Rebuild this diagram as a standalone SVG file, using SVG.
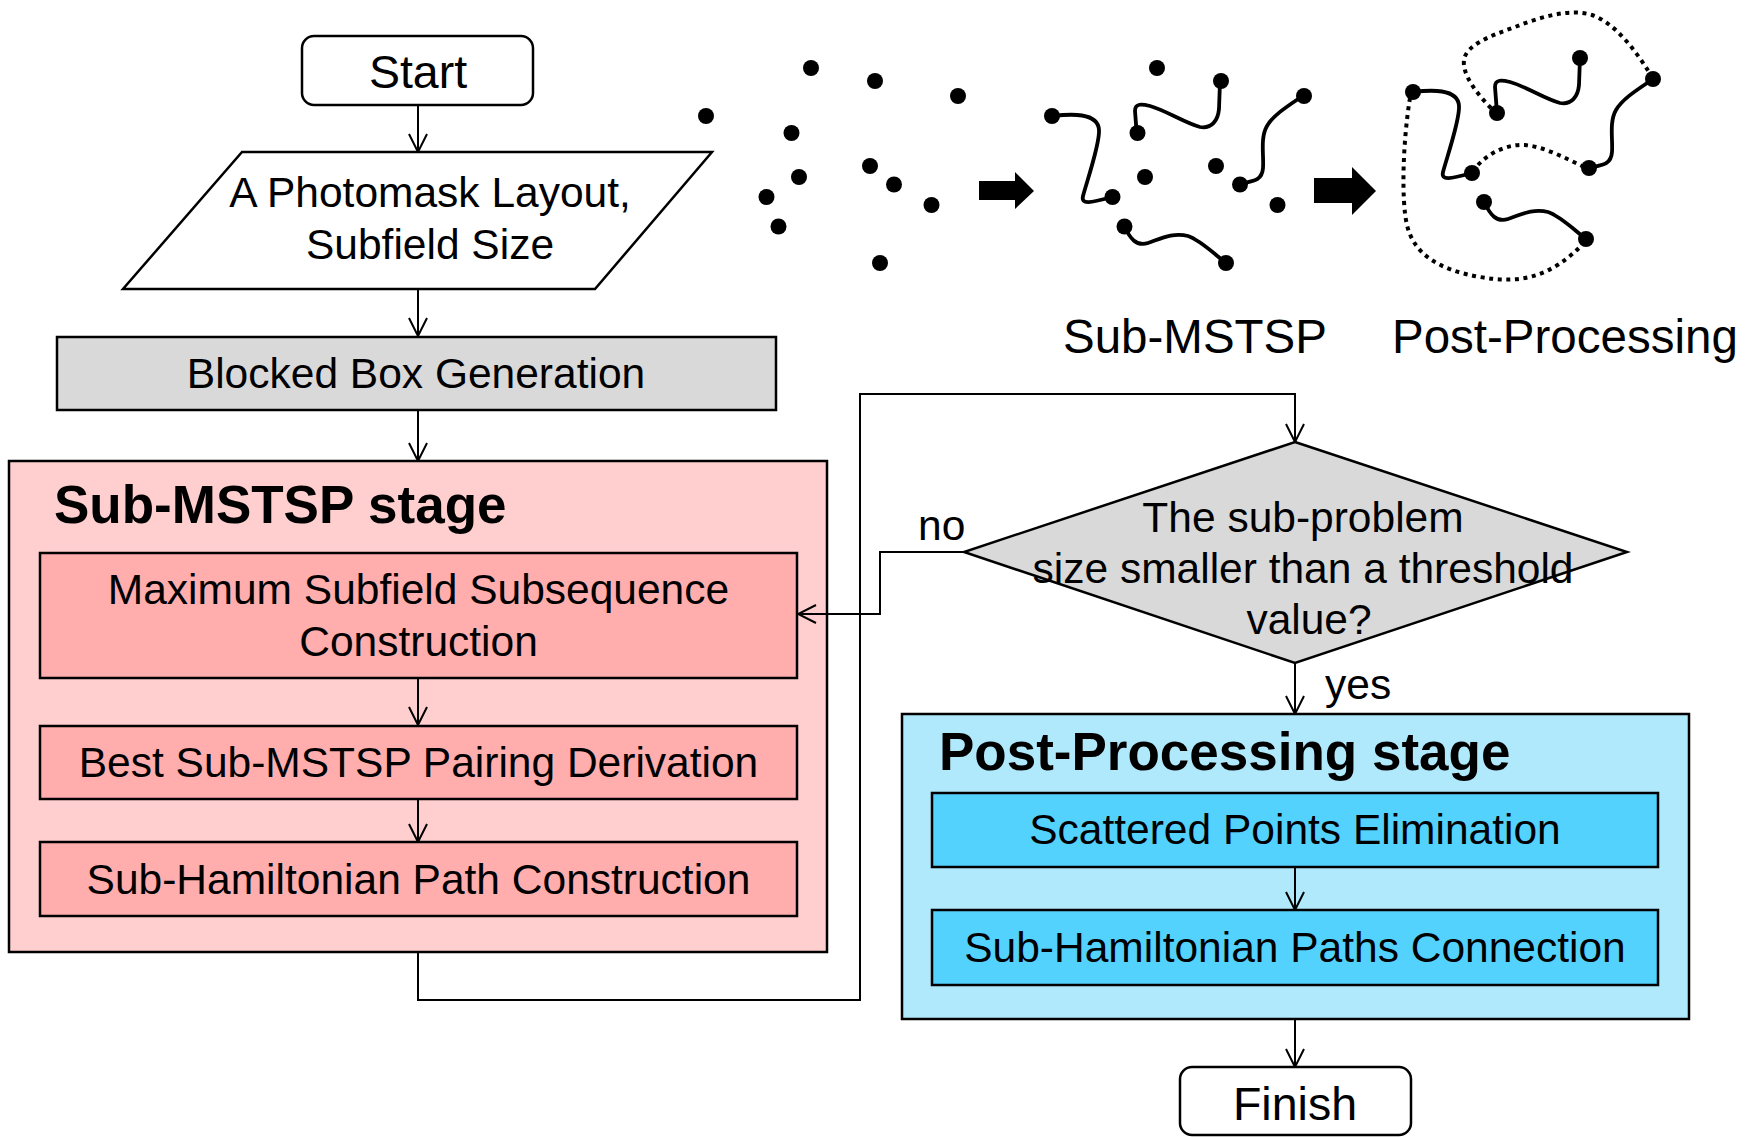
<svg xmlns="http://www.w3.org/2000/svg" width="1756" height="1137" viewBox="0 0 1756 1137">
  <defs>
    <marker id="open-arrow" viewBox="0 0 20 20" refX="19" refY="10" markerWidth="20" markerHeight="20" markerUnits="userSpaceOnUse" orient="auto">
      <path d="M1,1 L19,10 L1,19" fill="none" stroke="#000" stroke-width="2"/>
    </marker>
    <circle id="pt" r="8" fill="#000"/>
  </defs>
  <style>
    text { font-family: "Liberation Sans", Arial, sans-serif; fill: #000; }
    .body { font-size: 42.5px; text-anchor: middle; }
    .term { font-size: 46.5px; text-anchor: middle; }
    .cap { font-size: 47.5px; }
    .head { font-size: 53px; font-weight: bold; }
    .lbl { font-size: 42.5px; }
    .box { stroke: #000; stroke-width: 2.5; }
    .gray { fill: #d9d9d9; }
    .pink-out { fill: #ffcfcf; }
    .pink-in { fill: #ffadad; }
    .blue-out { fill: #b0e9fc; }
    .blue-in { fill: #54d2fe; }
    .edge { fill: none; stroke: #000; stroke-width: 2; }
    .wire { fill: none; stroke: #000; stroke-width: 3.8; stroke-linecap: round; }
    .dots { fill: none; stroke: #000; stroke-width: 4; stroke-dasharray: 4 4.6; }
  </style>

  <rect width="1756" height="1137" fill="#fff"/>

  <g id="start">
    <rect class="box" x="302" y="36" width="231" height="69" rx="12" fill="#fff"/>
    <text class="term" x="418" y="88">Start</text>
  </g>

  <g id="input">
    <polygon class="box" points="242,152 712,152 595,289 123,289" fill="#fff"/>
    <text class="body" x="430" y="207">A Photomask Layout,</text>
    <text class="body" x="430" y="259">Subfield Size</text>
  </g>

  <g id="blocked-box">
    <rect class="box gray" x="57" y="337" width="719" height="73"/>
    <text class="body" x="416" y="388">Blocked Box Generation</text>
  </g>

  <g id="sub-mstsp-stage">
    <rect class="box pink-out" x="9" y="461" width="818" height="491"/>
    <text class="head" x="54" y="523">Sub-MSTSP stage</text>
  </g>

  <g id="max-subsequence">
    <rect class="box pink-in" x="40" y="553" width="757" height="125"/>
    <text class="body" x="418.5" y="604">Maximum Subfield Subsequence</text>
    <text class="body" x="418.5" y="656">Construction</text>
  </g>

  <g id="pairing">
    <rect class="box pink-in" x="40" y="726" width="757" height="73"/>
    <text class="body" x="418.5" y="777">Best Sub-MSTSP Pairing Derivation</text>
  </g>

  <g id="sub-path">
    <rect class="box pink-in" x="40" y="842" width="757" height="74"/>
    <text class="body" x="418.5" y="894">Sub-Hamiltonian Path Construction</text>
  </g>

  <g id="threshold">
    <polygon class="box gray" points="1295,442 1627,552 1295,663 964,552"/>
    <text class="body" x="1303" y="532">The sub-problem</text>
    <text class="body" x="1303" y="583">size smaller than a threshold</text>
    <text class="body" x="1309" y="634">value?</text>
  </g>

  <g id="post-processing-stage">
    <rect class="box blue-out" x="902" y="714" width="787" height="305"/>
    <text class="head" x="939" y="770">Post-Processing stage</text>
  </g>

  <g id="scattered">
    <rect class="box blue-in" x="932" y="793" width="726" height="74"/>
    <text class="body" x="1295" y="844">Scattered Points Elimination</text>
  </g>

  <g id="connection">
    <rect class="box blue-in" x="932" y="910" width="726" height="75"/>
    <text class="body" x="1295" y="962">Sub-Hamiltonian Paths Connection</text>
  </g>

  <g id="finish">
    <rect class="box" x="1180" y="1067" width="231" height="68" rx="12" fill="#fff"/>
    <text class="term" x="1295" y="1120">Finish</text>
  </g>

  <!-- flow connectors, drawn over the stage panels -->
  <g id="connectors">
    <path class="edge" d="M418,105 V152" marker-end="url(#open-arrow)"/>
    <path class="edge" d="M418,289 V336" marker-end="url(#open-arrow)"/>
    <path class="edge" d="M418,410 V461" marker-end="url(#open-arrow)"/>
    <path class="edge" d="M418,678 V725" marker-end="url(#open-arrow)"/>
    <path class="edge" d="M418,799 V842" marker-end="url(#open-arrow)"/>
    <path class="edge" d="M418,953 V1000 H860 V394 H1295 V442" marker-end="url(#open-arrow)"/>
    <path class="edge" d="M964,552 H880 V614 H798" marker-end="url(#open-arrow)"/>
    <path class="edge" d="M1295,663 V714" marker-end="url(#open-arrow)"/>
    <path class="edge" d="M1295,867 V910" marker-end="url(#open-arrow)"/>
    <path class="edge" d="M1295,1020 V1067" marker-end="url(#open-arrow)"/>
  </g>

  <g id="branch-labels">
    <text class="lbl" x="918" y="540">no</text>
    <text class="lbl" x="1325" y="699">yes</text>
  </g>

  <!-- illustration: raw point set -->
  <g id="points-raw">
    <use href="#pt" x="706" y="116"/>
    <use href="#pt" x="811" y="68"/>
    <use href="#pt" x="875" y="81"/>
    <use href="#pt" x="958" y="96"/>
    <use href="#pt" x="791.5" y="133"/>
    <use href="#pt" x="799" y="177"/>
    <use href="#pt" x="766.5" y="197"/>
    <use href="#pt" x="778.5" y="226.5"/>
    <use href="#pt" x="870" y="166"/>
    <use href="#pt" x="894" y="184.5"/>
    <use href="#pt" x="931.5" y="205"/>
    <use href="#pt" x="880" y="263"/>
  </g>

  <polygon id="step-arrow-1" points="979,181 1015,181 1015,172 1034,191 1015,209 1015,200 979,200" fill="#000"/>

  <!-- illustration: sub-paths -->
  <g id="sub-mstsp-paths">
    <g transform="translate(-360,24)">
      <path id="wire1" class="wire" d="M1413,92 C1430,90 1458,88 1459,106 C1460,120 1446,160 1443,172 C1441,181 1450,179 1472,173"/>
      <path id="wire2" class="wire" d="M1497,113 L1495,87 C1495,79 1502,80 1510,82 C1525,86 1545,99 1560,103 C1572,105 1578,96 1579,85 L1580,58"/>
      <path id="wire4" class="wire" d="M1484,202 C1490,214 1496,223 1508,219 C1520,215 1533,208 1548,212 C1560,216 1572,228 1586,239"/>
    </g>
    <g transform="translate(-349,16)">
      <path id="wire3" class="wire" d="M1589,168 C1600,165 1611,166 1612,152 C1613,140 1609,122 1616,110 C1623,98 1640,88 1653,79"/>
    </g>
    <g transform="translate(346,0)">
      <use href="#pt" x="706" y="116"/>
      <use href="#pt" x="811" y="68"/>
      <use href="#pt" x="875" y="81"/>
      <use href="#pt" x="958" y="96"/>
      <use href="#pt" x="791.5" y="133"/>
      <use href="#pt" x="799" y="177"/>
      <use href="#pt" x="766.5" y="197"/>
      <use href="#pt" x="778.5" y="226.5"/>
      <use href="#pt" x="870" y="166"/>
      <use href="#pt" x="894" y="184.5"/>
      <use href="#pt" x="931.5" y="205"/>
      <use href="#pt" x="880" y="263"/>
    </g>
  </g>

  <polygon id="step-arrow-2" points="1314,178 1352,178 1352,167 1376,191 1352,215 1352,203 1314,203" fill="#000"/>

  <!-- illustration: joined tour -->
  <g id="post-processing-paths">
    <path class="dots" d="M1410,98 C1403,140 1401,200 1407,225 C1414,255 1440,270 1480,277 C1520,284 1550,278 1584,243"/>
    <path class="dots" d="M1491,108 C1478,95 1462,75 1464,60 C1466,45 1490,36 1515,27 C1540,17 1570,8 1592,15 C1615,23 1635,50 1649,72"/>
    <path class="dots" d="M1478,165 C1490,152 1508,144 1525,145 C1545,147 1565,158 1582,166"/>
    <use href="#wire1"/>
    <use href="#wire2"/>
    <use href="#wire3"/>
    <use href="#wire4"/>
    <use href="#pt" x="1413" y="92"/>
    <use href="#pt" x="1472" y="173"/>
    <use href="#pt" x="1497" y="113"/>
    <use href="#pt" x="1580" y="58"/>
    <use href="#pt" x="1653" y="79"/>
    <use href="#pt" x="1589" y="168"/>
    <use href="#pt" x="1484" y="202"/>
    <use href="#pt" x="1586" y="239"/>
  </g>

  <g id="captions">
    <text class="cap" x="1063" y="353">Sub-MSTSP</text>
    <text class="cap" x="1392" y="353">Post-Processing</text>
  </g>
</svg>
